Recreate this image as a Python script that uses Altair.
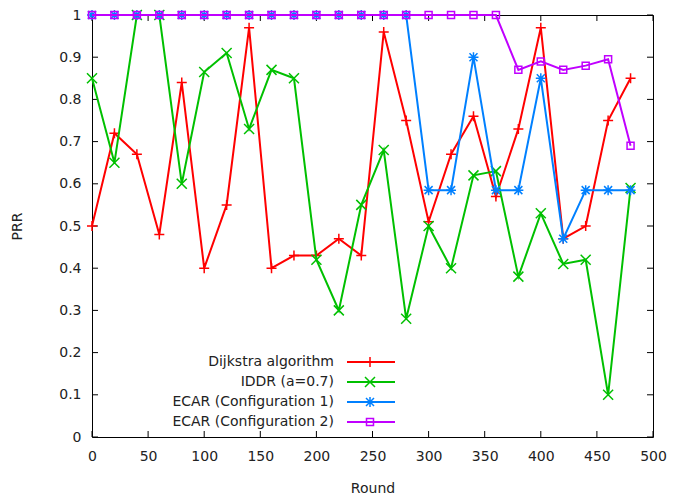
import altair as alt
import pandas as pd

rounds = [0, 20, 40, 60, 80, 100, 120, 140, 160, 180, 200, 220, 240, 260, 280,
          300, 320, 340, 360, 380, 400, 420, 440, 460, 480]
dijkstra = [0.50, 0.72, 0.67, 0.48, 0.84, 0.40, 0.55, 0.97, 0.40, 0.43, 0.43, 0.47, 0.43,
            0.96, 0.75, 0.51, 0.67, 0.76, 0.57, 0.73, 0.97, 0.47, 0.50, 0.75, 0.85]
iddr = [0.85, 0.65, 1.0, 1.0, 0.60, 0.865, 0.91, 0.73, 0.87, 0.85, 0.42, 0.30, 0.55,
        0.68, 0.28, 0.50, 0.40, 0.62, 0.63, 0.38, 0.53, 0.41, 0.42, 0.10, 0.59]
ecar1 = [1.0, 1.0, 1.0, 1.0, 1.0, 1.0, 1.0, 1.0, 1.0, 1.0, 1.0, 1.0, 1.0, 1.0, 1.0,
         0.585, 0.585, 0.90, 0.585, 0.585, 0.85, 0.47, 0.585, 0.585, 0.585]
ecar2 = [1.0, 1.0, 1.0, 1.0, 1.0, 1.0, 1.0, 1.0, 1.0, 1.0, 1.0, 1.0, 1.0, 1.0, 1.0,
         1.0, 1.0, 1.0, 1.0, 0.87, 0.89, 0.87, 0.88, 0.895, 0.69]
series_names = ["Dijkstra algorithm", "IDDR (a=0.7)", "ECAR (Configuration 1)", "ECAR (Configuration 2)"]
x_ticks = [0, 50, 100, 150, 200, 250, 300, 350, 400, 450, 500]
y_ticks = [0, 0.1, 0.2, 0.3, 0.4, 0.5, 0.6, 0.7, 0.8, 0.9, 1]

colors = ["#ff0000", "#00c000", "#0080ff", "#c000ff"]
shapes = [
    "M-1,0H1M0,-1V1",
    "M-1,-1L1,1M-1,1L1,-1",
    "M-1,0H1M0,-1V1M-0.8,-0.8L0.8,0.8M-0.8,0.8L0.8,-0.8",
    "M-0.7,-0.7H0.7V0.7H-0.7Z",
]
FONT = "DejaVu Sans"
FS = 14
TXT = "#222"
W, H = 561, 422

xs = alt.Scale(domain=[0, 500], nice=False, zero=False)
ys = alt.Scale(domain=[0, 1], nice=False, zero=False)

layers = []
all_values = [dijkstra, iddr, ecar1, ecar2]

# axes holder
base_df = pd.DataFrame({"x": x_ticks[:len(y_ticks)], "y": y_ticks[:len(x_ticks)]})
axes_layer = alt.Chart(base_df).mark_point(opacity=0).encode(
    x=alt.X("x:Q", scale=xs, title="Round",
            axis=alt.Axis(values=x_ticks, ticks=False, tickSize=0, domain=False, grid=False,
                          labelFlush=False, labelOverlap=False,
                          labelPadding=12, titlePadding=18, labelFontSize=FS, titleFontSize=FS,
                          labelFont=FONT, titleFont=FONT, titleFontWeight="normal",
                          labelColor=TXT, titleColor=TXT)),
    y=alt.Y("y:Q", scale=ys, title="PRR",
            axis=alt.Axis(values=y_ticks, ticks=False, tickSize=0, domain=False, grid=False,
                          labelFlush=False, labelOverlap=False,
                          labelPadding=11, titlePadding=34, labelFontSize=FS, titleFontSize=FS,
                          labelFont=FONT, titleFont=FONT, titleFontWeight="normal",
                          labelColor=TXT, titleColor=TXT, format=".1~f")),
)
layers.append(axes_layer)

# inward ticks
xt = pd.DataFrame({"t": x_ticks})
yt = pd.DataFrame({"t": y_ticks})
tick_color = "#000"
layers.append(alt.Chart(xt).mark_rule(color=tick_color, strokeWidth=1).encode(
    x=alt.X("t:Q", scale=xs), y=alt.value(H), y2=alt.value(H - 6)))
layers.append(alt.Chart(xt).mark_rule(color=tick_color, strokeWidth=1).encode(
    x=alt.X("t:Q", scale=xs), y=alt.value(0), y2=alt.value(6)))
layers.append(alt.Chart(yt).mark_rule(color=tick_color, strokeWidth=1).encode(
    y=alt.Y("t:Q", scale=ys), x=alt.value(0), x2=alt.value(6)))
layers.append(alt.Chart(yt).mark_rule(color=tick_color, strokeWidth=1).encode(
    y=alt.Y("t:Q", scale=ys), x=alt.value(W), x2=alt.value(W - 6)))

for i, vals in enumerate(all_values):
    df = pd.DataFrame({"round": rounds, "prr": vals})
    enc = dict(x=alt.X("round:Q", scale=xs), y=alt.Y("prr:Q", scale=ys))
    layers.append(alt.Chart(df).mark_line(color=colors[i], strokeWidth=2, clip=False).encode(**enc))
    layers.append(alt.Chart(df).mark_point(shape=shapes[i], color=colors[i], filled=False,
                                           size=100, strokeWidth=1.5, opacity=1, clip=False).encode(**enc))

# legend
leg_rows = [347, 367, 387, 407]
for i, name in enumerate(series_names):
    ldf = pd.DataFrame({"label": [name]})
    layers.append(alt.Chart(ldf).mark_text(align="right", baseline="middle", font=FONT,
                                           fontSize=FS, color=TXT).encode(
        text="label:N", x=alt.value(242), y=alt.value(leg_rows[i])))
    layers.append(alt.Chart(ldf).mark_rule(color=colors[i], strokeWidth=2).encode(
        x=alt.value(255), x2=alt.value(303), y=alt.value(leg_rows[i])))
    layers.append(alt.Chart(ldf).mark_point(shape=shapes[i], color=colors[i], filled=False,
                                            size=100, strokeWidth=1.5, opacity=1).encode(
        x=alt.value(278), y=alt.value(leg_rows[i])))

chart = alt.layer(*layers).properties(
    width=W, height=H,
    autosize=alt.AutoSizeParams(type="none"),
    padding={"left": 84, "top": 7, "right": 20, "bottom": 60},
    background="white",
).configure_view(stroke="#000", strokeWidth=1)

chart.save("out.html", embed_options={"renderer": "svg", "actions": False})
